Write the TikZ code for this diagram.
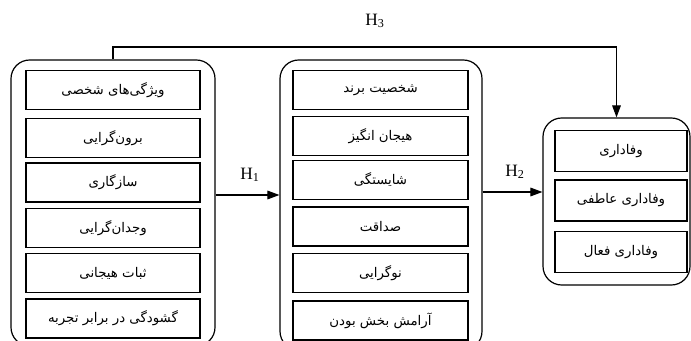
\documentclass[tikz,border=0pt]{standalone}
\usepackage{fontspec}
\setmainfont{Liberation Serif}
\newfontfamily\fafont[Script=Arabic]{DejaVu Sans}
\TeXXeTstate=1
\usetikzlibrary{arrows.meta}
\newcommand{\fa}[1]{\beginR #1\endR}
\begin{document}
\begin{tikzpicture}[x=0.75pt,y=-0.75pt,
  container/.style={draw, line width=0.9pt, rounded corners=14pt, inner sep=0pt},
  itembox/.style={draw, line width=1.1pt, inner sep=0pt, font=\fafont\fontsize{10}{12}\selectfont},
  lbox/.style={itembox, minimum width=130.5pt, minimum height=29.5pt},
  mbox/.style={itembox, minimum width=131pt, minimum height=29.5pt},
  rbox/.style={itembox, minimum width=99pt, minimum height=30.5pt},
  conn/.style={line width=0.8pt},
  arr/.style={conn, -{Triangle[length=9pt,width=6.5pt]}},
  hlabel/.style={font=\fontsize{13}{14}\selectfont, inner sep=1pt}]
\useasboundingbox (0,0) rectangle (691,341);
% containers
\node[container, minimum width=153pt, minimum height=214.5pt] (lc) at (113,203) {};
\node[container, minimum width=151.5pt, minimum height=217.5pt] (mc) at (381,205) {};
\node[container, minimum width=110.25pt, minimum height=125.25pt] (rc) at (616.5,201.5) {};
% left items
\node[lbox] (l1) at (113,90) {\fa{ویژگی^^^^200cهای شخصی}};
\node[lbox] (l2) at (113,138) {\fa{برون^^^^200cگرایی}};
\node[lbox] (l3) at (113,182.5) {\fa{سازگاری}};
\node[lbox] (l4) at (113,228) {\fa{وجدان^^^^200cگرایی}};
\node[lbox] (l5) at (113,273) {\fa{ثبات هیجانی}};
\node[lbox] (l6) at (113,318.5) {\fa{گشودگی در برابر تجربه}};
% middle items
\node[mbox] (m1) at (380.5,90) {\fa{شخصیت برند}};
\node[mbox] (m2) at (380.5,136) {\fa{هیجان انگیز}};
\node[mbox] (m3) at (380.5,180) {\fa{شایستگی}};
\node[mbox] (m4) at (380.5,226.5) {\fa{صداقت}};
\node[mbox] (m5) at (380.5,273) {\fa{نوگرایی}};
\node[mbox] (m6) at (380.5,320.5) {\fa{آرامش بخش بودن}};
% right items
\node[rbox] (r1) at (621,151) {\fa{وفاداری}};
\node[rbox] (r2) at (621,200.5) {\fa{وفاداری عاطفی}};
\node[rbox] (r3) at (621,252) {\fa{وفاداری فعال}};
% connectors
\coordinate (y1) at (0,195);
\coordinate (y2) at (0,192);
\coordinate (h3) at (616.5,47);
\draw[arr] (lc.east |- y1) -- (mc.west |- y1);
\draw[arr] (mc.east |- y2) -- (rc.west |- y2);
\draw[arr] (lc.north) |- (h3) -- (rc.north);
% labels
\node[hlabel] (H1) at (250,175) {H\textsubscript{1}};
\node[hlabel] (H2) at (515,172) {H\textsubscript{2}};
\node[hlabel] (H3) at (375,21) {H\textsubscript{3}};
\end{tikzpicture}
\end{document}
